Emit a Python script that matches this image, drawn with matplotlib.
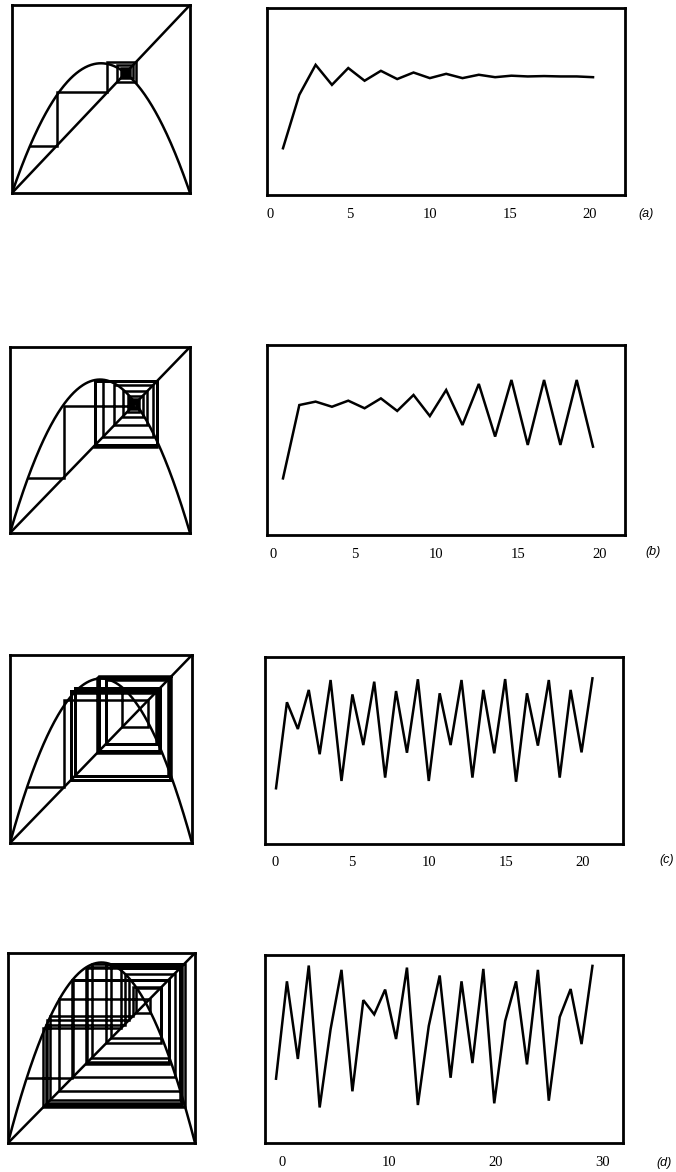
import numpy as np
import matplotlib
matplotlib.use("Agg")
import matplotlib.pyplot as plt

W, H = 676, 1172

# logistic-map orbits x_1 .. x_N for the four parameter values
orbit_a = [0.250, 0.536, 0.696, 0.589, 0.679, 0.611, 0.664, 0.620, 0.655, 0.625,
           0.648, 0.625, 0.643, 0.630, 0.638, 0.634, 0.636, 0.634, 0.634, 0.630]
orbit_b = [0.298, 0.684, 0.702, 0.675, 0.707, 0.667, 0.719, 0.653, 0.737, 0.626,
           0.763, 0.579, 0.795, 0.518, 0.816, 0.474, 0.816, 0.474, 0.816, 0.465]
orbit_c = [0.298, 0.758, 0.615, 0.824, 0.480, 0.877, 0.337, 0.800, 0.529, 0.868,
           0.355, 0.818, 0.488, 0.881, 0.337, 0.806, 0.529, 0.877, 0.355, 0.824,
           0.485, 0.882, 0.333, 0.806, 0.526, 0.877, 0.355, 0.824, 0.490, 0.886]
orbit_d = [0.342, 0.860, 0.447, 0.944, 0.189, 0.605, 0.921, 0.275, 0.760, 0.684,
           0.816, 0.553, 0.933, 0.202, 0.623, 0.891, 0.347, 0.860, 0.425, 0.926,
           0.211, 0.649, 0.860, 0.418, 0.921, 0.225, 0.670, 0.819, 0.526, 0.942]

# starting value x_0 of each orbit
x_start = [0.10, 0.10, 0.10, 0.10]

# height of the parabola top, the map is y = 4 * top * x * (1 - x)
parabola_top = [0.69, 0.825, 0.875, 0.95]

# time-axis tick labels and panel tags
ticks_a = [0, 5, 10, 15, 20]
ticks_b = [0, 5, 10, 15, 20]
ticks_c = [0, 5, 10, 15, 20]
ticks_d = [0, 10, 20, 30]
tags = ["(a)", "(b)", "(c)", "(d)"]

orbits = [orbit_a, orbit_b, orbit_c, orbit_d]
ticks = [ticks_a, ticks_b, ticks_c, ticks_d]

# pixel boxes (left, top, right, bottom) of the cobweb and time-series frames
cobweb_boxes = [(12, 5, 190, 193), (10, 347, 190, 533),
                (10, 655, 192, 843), (8, 953, 195, 1143)]
series_boxes = [(267, 8, 625, 195), (267, 345, 625, 535),
                (265, 657, 623, 844), (265, 955, 623, 1143)]
# x-range of each series frame in step units and in tick-label units
step_lims = [(0.02, 21.96), (0.02, 21.96), (-0.01, 32.8), (-0.01, 32.8)]
label_lims = [(-0.19, 22.19), (-0.37, 21.53), (-0.65, 22.6), (-1.6, 31.96)]
tag_pos = [(646, 214), (653, 552), (667, 860), (664, 1163)]

LW = 1.8
FRAME_LW = 2.0


def add_box(fig, box, **kw):
    x0, y0, x1, y1 = box
    return fig.add_axes([x0 / W, 1 - y1 / H, (x1 - x0) / W, (y1 - y0) / H], **kw)


def cobweb_path(x0, orbit):
    px, py = [x0], [orbit[0]]
    for cur, nxt in zip(orbit[:-1], orbit[1:]):
        px += [cur, cur]
        py += [cur, nxt]
    px.append(orbit[-1])
    py.append(orbit[-1])
    return px, py


def plot_cobweb(ax, x0, orbit, top):
    xx = np.linspace(0, 1, 300)
    ax.plot(xx, 4 * top * xx * (1 - xx), color="black", lw=LW)
    ax.plot([0, 1], [0, 1], color="black", lw=LW)
    px, py = cobweb_path(x0, orbit)
    ax.plot(px, py, color="black", lw=LW, solid_joinstyle="miter")
    ax.set_xlim(0, 1)
    ax.set_ylim(0, 1)
    ax.set_xticks([])
    ax.set_yticks([])
    for s in ax.spines.values():
        s.set_linewidth(FRAME_LW)


def plot_series(fig, box, orbit, slim, llim, tick_vals):
    ax = add_box(fig, box)
    steps = np.arange(1, len(orbit) + 1)
    ax.plot(steps, orbit, color="black", lw=LW, solid_joinstyle="miter")
    ax.set_xlim(*slim)
    ax.set_ylim(0, 1)
    ax.set_xticks([])
    ax.set_yticks([])
    for s in ax.spines.values():
        s.set_linewidth(FRAME_LW)
    # separate scale for the printed time labels
    lab = add_box(fig, box, frameon=False)
    lab.set_xlim(*llim)
    lab.set_yticks([])
    lab.set_xticks(tick_vals)
    lab.set_xticklabels([str(t) for t in tick_vals],
                        fontfamily="Liberation Serif", fontsize=10.5)
    lab.tick_params(axis="x", length=0, pad=9)
    lab.patch.set_alpha(0)
    return ax


fig = plt.figure(figsize=(W / 100, H / 100), dpi=100)

for i in range(4):
    ax_c = add_box(fig, cobweb_boxes[i])
    plot_cobweb(ax_c, x_start[i], orbits[i], parabola_top[i])
    plot_series(fig, series_boxes[i], orbits[i], step_lims[i], label_lims[i], ticks[i])
    fig.text(tag_pos[i][0] / W, 1 - tag_pos[i][1] / H, tags[i],
             fontfamily="Liberation Sans", fontstyle="italic", fontsize=9,
             ha="center", va="center")

fig.savefig("out.png", dpi=100)
